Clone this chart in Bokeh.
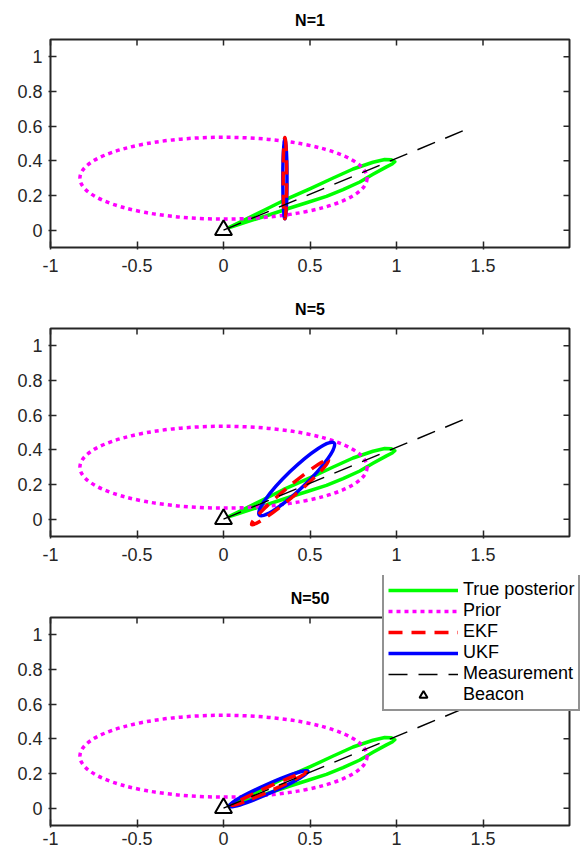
import math
import numpy as np
from bokeh.plotting import figure
from bokeh.models import Range1d, FixedTicker, Legend, LegendItem, BoxAnnotation, Label
from bokeh.layouts import column
from bokeh.embed import file_html
from bokeh.resources import INLINE

# ---------------- data ----------------
titles = ["N=1", "N=5", "N=50"]

x_ticks = [-1, -0.5, 0, 0.5, 1, 1.5]
x_tick_labels = ["-1", "-0.5", "0", "0.5", "1", "1.5"]
y_ticks = [0, 0.2, 0.4, 0.6, 0.8, 1]
y_tick_labels = ["0", "0.2", "0.4", "0.6", "0.8", "1"]

# axis limits of every panel
X_MIN, X_MAX = -1.0, 2.0
Y_MIN, Y_MAX = -0.1, 1.1

# prior covariance ellipse (same in every panel): centre, full axes, angle (deg)
prior_cx = 0.0
prior_cy = 0.30
prior_major = 1.66
prior_minor = 0.472
prior_angle = 0.0

# true posterior contour (same in every panel)
true_post_x = [0.025, 0.153, 0.249, 0.384, 0.480, 0.595, 0.691, 0.788, 0.864, 0.942,
               0.975, 0.990, 0.970, 0.932, 0.864, 0.749, 0.634, 0.499, 0.345, 0.249,
               0.140, 0.025]
true_post_y = [0.012, 0.054, 0.083, 0.128, 0.158, 0.195, 0.234, 0.278, 0.322, 0.365,
               0.382, 0.395, 0.406, 0.408, 0.392, 0.353, 0.301, 0.238, 0.170, 0.122,
               0.068, 0.012]

# bearing measurement line
meas_x = [0.0, 1.386]
meas_y = [0.0, 0.574]

# beacon
beacon_x = [0.0]
beacon_y = [0.0]

# EKF posterior ellipses per panel (N=1, N=5, N=50)
ekf_cx = [0.355, 0.385, 0.265]
ekf_cy = [0.300, 0.155, 0.111]
ekf_major = [0.470, 0.580, 0.470]
ekf_minor = [0.020, 0.060, 0.026]
ekf_angle = [90.0, 40.0, 24.0]

# UKF posterior ellipses per panel
ukf_cx = [0.355, 0.423, 0.260]
ukf_cy = [0.300, 0.232, 0.112]
ukf_major = [0.470, 0.600, 0.500]
ukf_minor = [0.024, 0.114, 0.052]
ukf_angle = [90.0, 44.0, 24.0]

legend_labels = ["True posterior", "Prior", "EKF", "UKF", "Measurement", "Beacon"]

# ---------------- style ----------------
FONT = "Liberation Sans"
DARK = "#262626"
GREEN = "#00ff00"
MAGENTA = "#ff00ff"
RED = "#ff0000"
BLUE = "#0000ff"
LW = 3.5
DOT = "4 4"
DASH = "14 9"
MDASH = "19 11"

BOX_W, BOX_H = 519, 208                 # axes box size in pixels
PX_X = BOX_W / (X_MAX - X_MIN)
PX_Y = BOX_H / (Y_MAX - Y_MIN)
TICK = 6
PAD_L, PAD_B, PAD_R = 2, 2, 12          # frame pixels beyond the axes box

# per panel: (frame pixels above the box, min border top, min border bottom, x label standoff)
panel_layout = [(37, 2, 41, 9), (37, 1, 32, 9), (42, 5, 25, 4)]


def style_axis(ax, ticks, labels, standoff, tick_in):
    ax.ticker = FixedTicker(ticks=ticks)
    ax.major_label_overrides = dict(zip(ticks, labels))
    ax.major_tick_in = tick_in
    ax.major_tick_out = 0
    ax.minor_tick_line_color = None
    ax.axis_line_color = None
    ax.major_tick_line_color = DARK
    ax.major_tick_line_width = 1.5
    ax.major_label_text_font = FONT
    ax.major_label_text_font_size = "18px"
    ax.major_label_text_color = DARK
    ax.major_label_standoff = standoff


figs = []
for i in range(3):
    pad_t, b_top, b_bottom, xs = panel_layout[i]
    fw = PAD_L + BOX_W + PAD_R
    fh = PAD_B + BOX_H + pad_t
    x0 = X_MIN - PAD_L / PX_X
    y0 = Y_MIN - PAD_B / PX_Y
    p = figure(frame_width=fw, frame_height=fh,
               x_range=Range1d(x0, x0 + fw / PX_X), y_range=Range1d(y0, y0 + fh / PX_Y),
               min_border_left=48, min_border_right=0,
               min_border_top=b_top, min_border_bottom=b_bottom,
               output_backend="svg", toolbar_location=None)
    p.grid.visible = False
    p.outline_line_color = None
    p.background_fill_color = "white"
    p.border_fill_color = "white"
    style_axis(p.xaxis[0], x_ticks, x_tick_labels, xs, TICK + PAD_B)
    style_axis(p.yaxis[0], y_ticks, y_tick_labels, 6, TICK + PAD_L)

    r_true = p.line(true_post_x, true_post_y, line_color=GREEN, line_width=LW,
                    line_join="round")
    p.ellipse(x=[prior_cx], y=[prior_cy], width=[prior_major], height=[prior_minor],
              angle=[math.radians(prior_angle)], fill_color=None,
              line_color=MAGENTA, line_width=LW, line_dash=DOT)
    p.ellipse(x=[ukf_cx[i]], y=[ukf_cy[i]], width=[ukf_major[i]], height=[ukf_minor[i]],
              angle=[math.radians(ukf_angle[i])], fill_color=None,
              line_color=BLUE, line_width=LW)
    p.ellipse(x=[ekf_cx[i]], y=[ekf_cy[i]], width=[ekf_major[i]], height=[ekf_minor[i]],
              angle=[math.radians(ekf_angle[i])], fill_color=None,
              line_color=RED, line_width=LW, line_dash=DASH)
    r_meas = p.line(meas_x, meas_y, line_color="black", line_width=1.5, line_dash=MDASH)
    r_beacon = p.scatter(beacon_x, beacon_y, marker="triangle", size=17,
                         fill_color="white", fill_alpha=0, line_color="black", line_width=2)

    # inward ticks on the top and right edges of the axes box
    p.segment(x0=x_ticks, y0=[Y_MAX] * len(x_ticks), x1=x_ticks,
              y1=[Y_MAX - TICK / PX_Y] * len(x_ticks), line_color=DARK, line_width=1.5)
    p.segment(x0=[X_MAX] * len(y_ticks), y0=y_ticks,
              x1=[X_MAX - TICK / PX_X] * len(y_ticks), y1=y_ticks,
              line_color=DARK, line_width=1.5)
    p.add_layout(BoxAnnotation(left=X_MIN, right=X_MAX, bottom=Y_MIN, top=Y_MAX,
                               fill_color=None, fill_alpha=0, line_color=DARK,
                               line_width=2, line_alpha=1))
    p.add_layout(Label(x=(X_MIN + X_MAX) / 2, y=Y_MAX, y_offset=19, text=titles[i],
                       text_align="center", text_baseline="middle", text_font=FONT,
                       text_font_size="16px", text_font_style="bold", text_color="black"))

    if i == 2:
        # legend proxies (single NaN point, nothing drawn) for the ellipse styles
        nan = np.array([np.nan])
        r_prior_l = p.line(nan, nan, line_color=MAGENTA, line_width=LW, line_dash=DOT)
        r_ekf_l = p.line(nan, nan, line_color=RED, line_width=LW, line_dash=DASH)
        r_ukf_l = p.line(nan, nan, line_color=BLUE, line_width=LW)
        rends = [r_true, r_prior_l, r_ekf_l, r_ukf_l, r_meas, r_beacon]
        items = [LegendItem(label=lab, renderers=[r]) for lab, r in zip(legend_labels, rends)]
        legend = Legend(items=items, location=(334, 116), margin=0, padding=4,
                        spacing=0, glyph_width=70, glyph_height=20, label_height=20,
                        label_standoff=5, label_text_font=FONT, label_text_font_size="18px",
                        label_text_color="black", border_line_color=DARK,
                        border_line_width=2, background_fill_color="white",
                        background_fill_alpha=1)
        p.add_layout(legend)
    figs.append(p)

layout = column(*figs, spacing=0)
open("out.html", "w").write(file_html(layout, INLINE))
